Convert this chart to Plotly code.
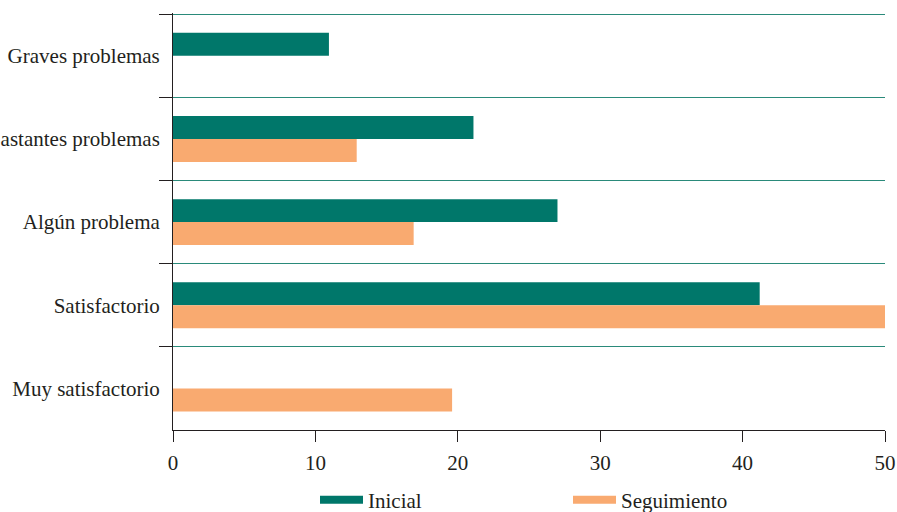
import plotly.graph_objects as go

categories = ["Graves problemas", "Bastantes problemas", "Algún problema", "Satisfactorio", "Muy satisfactorio"]
inicial = [10.95, 21.1, 27.0, 41.2, None]
seguimiento = [None, 12.9, 16.9, 50.0, 19.6]
x_ticks = [0, 10, 20, 30, 40, 50]

GREEN = "#00776a"
ORANGE = "#f9aa70"
FONT = "Liberation Serif, Times New Roman, serif"

fig = go.Figure()
fig.add_trace(go.Bar(y=categories, x=inicial, orientation="h", name="Inicial",
                     marker=dict(color=GREEN, line=dict(width=0)), showlegend=False))
fig.add_trace(go.Bar(y=categories, x=seguimiento, orientation="h", name="Seguimiento",
                     marker=dict(color=ORANGE, line=dict(width=0)), showlegend=False))
# legend entries
fig.add_trace(go.Scatter(x=[None], y=[None], mode="lines", name="Inicial",
                         line=dict(color=GREEN, width=8)))
fig.add_trace(go.Scatter(x=[None], y=[None], mode="lines", name="Seguimiento",
                         line=dict(color=ORANGE, width=8)))

fig.update_layout(
    width=897, height=512,
    margin=dict(l=173, r=12, t=13, b=82, autoexpand=False),
    paper_bgcolor="white", plot_bgcolor="white",
    barmode="group", bargap=0.447, bargroupgap=0,
    font=dict(family=FONT, size=21, color="#231f20"),
    showlegend=True,
    legend=dict(orientation="h", x=(315 - 173) / 712, xanchor="left",
                y=-0.168, yanchor="middle", entrywidth=195, entrywidthmode="pixels",
                itemwidth=43,
                font=dict(family=FONT, size=21, color="#231f20"),
                bgcolor="rgba(0,0,0,0)"),
)
fig.update_xaxes(range=[0, 50], tickvals=x_ticks, ticktext=[str(v) for v in x_ticks],
                 showgrid=False, zeroline=False, showline=True, linecolor="#231f20", linewidth=1,
                 ticks="outside", ticklen=11, tickcolor="#231f20", tickwidth=1,
                 ticklabelstandoff=3, automargin=False,
                 tickfont=dict(family=FONT, size=21, color="#231f20"), fixedrange=True)
fig.update_yaxes(type="category", categoryorder="array", categoryarray=categories,
                 range=[4.5, -0.515], tickson="boundaries", automargin=False,
                 showgrid=True, gridcolor="#2a8a7a", gridwidth=1,
                 showline=True, linecolor="#231f20", linewidth=1,
                 ticks="outside", ticklen=13, tickcolor="#231f20", tickwidth=1,
                 ticklabelstandoff=8,
                 tickfont=dict(family=FONT, size=21, color="#231f20"), fixedrange=True)

fig.write_html("out.html", config={"displayModeBar": False},
               post_script="document.body.style.margin='0';")
